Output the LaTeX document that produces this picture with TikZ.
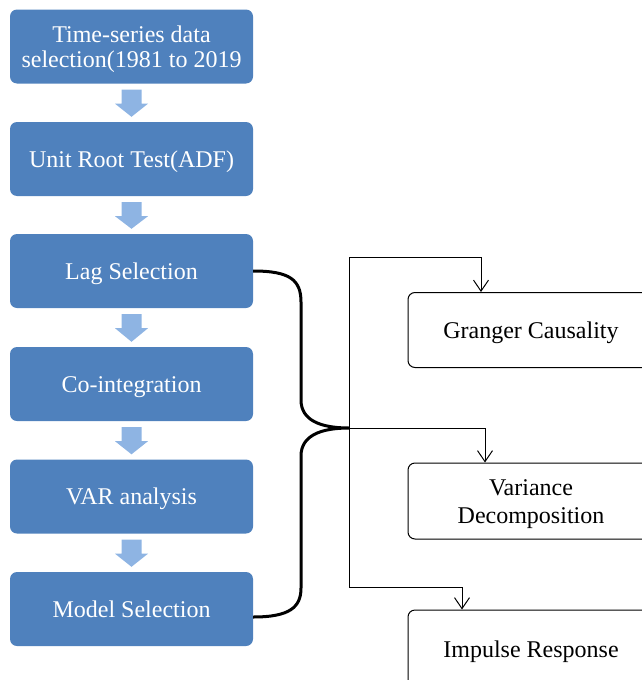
\documentclass[tikz,border=0pt]{standalone}
\usepackage{fontspec}
\setmainfont{Liberation Serif}
\usetikzlibrary{arrows.meta,calc}
\definecolor{boxblue}{HTML}{4F81BD}
\definecolor{arrblue}{HTML}{8EB4E3}
\begin{document}
\begin{tikzpicture}[x=1pt,y=-1pt,
  leftbox/.style={draw=none, fill=boxblue, rounded corners=7pt, minimum width=243pt, minimum height=74pt, text=white, font=\fontsize{24}{25}\selectfont, align=center, inner sep=0pt, text height=16pt, text depth=0pt},
  rightbox/.style={draw=black, line width=1pt, rounded corners=7pt, minimum width=246pt, minimum height=75pt, font=\fontsize{24}{28}\selectfont, align=center, inner sep=0pt, fill=white, text height=16pt, text depth=0pt},
  blockarrow/.style={fill=arrblue, draw=none},
  link/.style={line width=1pt, -{Straight Barb[length=11pt,width=15pt,line width=1pt]}},
  bracestyle/.style={line width=3pt}]
\useasboundingbox (0,0) rectangle (642,680);
\clip (0,0) rectangle (642,680);
\node[leftbox, text height=41pt] (b1) at (131.5,46.5) {Time-series data\\selection(1981 to 2019};
\node[leftbox] (b2) at (131.5,159) {Unit Root Test(ADF)};
\node[leftbox] (b3) at (131.5,271) {Lag Selection};
\node[leftbox] (b4) at (131.5,384) {Co-integration};
\node[leftbox] (b5) at (131.5,496.5) {VAR analysis};
\node[leftbox] (b6) at (131.5,609) {Model Selection};
\foreach \a/\b in {b1/b2,b2/b3,b3/b4,b4/b5,b5/b6}{
  \fill[blockarrow] ($(\a.south)+(-10,6)$) -- ($(\a.south)+(10,6)$) -- ($(\a.south)+(10,20)$) -- ($(\a.south)+(16.5,20)$) -- ($(\b.north)+(0,-5)$) -- ($(\a.south)+(-16.5,20)$) -- ($(\a.south)+(-10,20)$) -- cycle;
}
\node[rightbox] (gc) at (531,330) {Granger Causality};
\node[rightbox, minimum height=76pt, text height=44pt] (vd) at (531,501) {Variance\\Decomposition};
\node[rightbox, minimum height=78pt] (ir) at (531,649) {Impulse Response};
\coordinate (tip) at (349,428);
\coordinate (jt) at (349,257);
\coordinate (jb) at (349,587);
\draw[bracestyle] (b3.east) .. controls (290,271) and (301,280) .. (301,302) -- (301,400) .. controls (301,420) and (320,428) .. (tip)
  .. controls (320,428) and (301,436) .. (301,456) -- (301,588) .. controls (301,607) and (290,617) .. ($(b6.east)+(0,8)$);
\draw[line width=1pt] (jt) -- (jb);
\draw[link] (jt) -| ($(gc.north)+(-50,0)$);
\draw[link] (tip) -| ($(vd.north)+(-46,0)$);
\draw[link] (jb) -| ($(ir.north)+(-69,0)$);
\end{tikzpicture}
\end{document}
